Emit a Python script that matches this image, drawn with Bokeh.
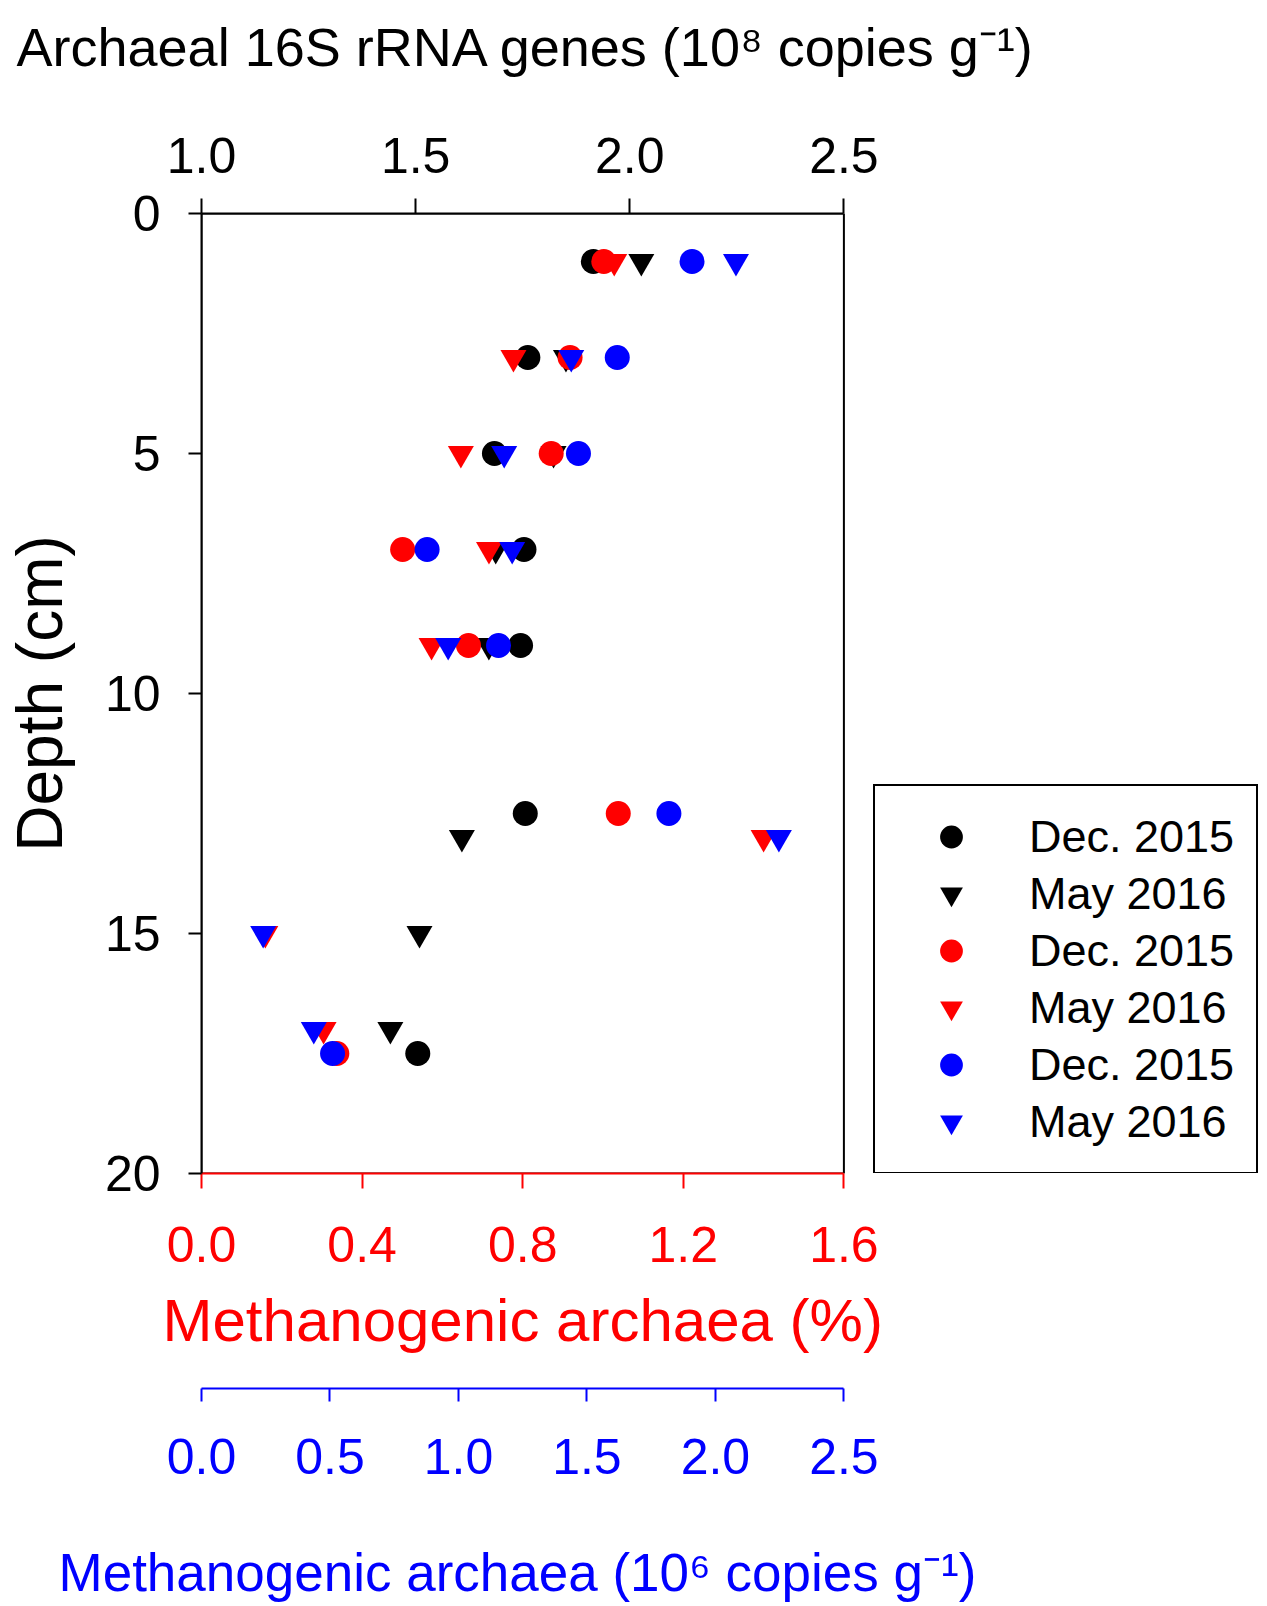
from bokeh.plotting import figure
from bokeh.models import (Range1d, LinearAxis, FixedTicker, PrintfTickFormatter,
                          Legend, LegendItem, Title, BoxAnnotation)
from bokeh.embed import file_html
from bokeh.resources import INLINE

# ---------------- data ----------------
depth_dec = [1, 3, 5, 7, 9, 12.5, 17.5]
depth_may = [1, 3, 5, 7, 9, 13, 15, 17]
# Archaeal 16S rRNA genes (10^8 copies g^-1)
archaea_dec = [1.915, 1.762, 1.684, 1.753, 1.745, 1.756, 1.505]
archaea_may = [2.027, 1.851, 1.822, 1.687, 1.671, 1.608, 1.509, 1.441]
# Methanogenic archaea (%)
methano_pct_dec = [1.002, 0.918, 0.871, 0.501, 0.665, 1.038, 0.337]
methano_pct_may = [1.028, 0.777, 0.646, 0.716, 0.573, 1.400, 0.159, 0.304]
# Methanogenic archaea (10^6 copies g^-1)
methano_cp_dec = [1.909, 1.618, 1.467, 0.878, 1.156, 1.819, 0.510]
methano_cp_may = [2.080, 1.439, 1.178, 1.209, 0.960, 2.247, 0.240, 0.437]

archaea_ticks = [1.0, 1.5, 2.0, 2.5]
pct_ticks = [0.0, 0.4, 0.8, 1.2, 1.6]
cp_ticks = [0.0, 0.5, 1.0, 1.5, 2.0, 2.5]
depth_ticks = [0, 5, 10, 15, 20]
legend_labels = ["Dec. 2015", "May 2016", "Dec. 2015", "May 2016", "Dec. 2015", "May 2016"]

title_top = "Archaeal 16S rRNA genes (10\u2078 copies g\u207b\u00b9)"
title_depth = "Depth (cm)"
title_pct = "Methanogenic archaea (%)"
title_cp = "Methanogenic archaea (10\u2076 copies g\u207b\u00b9)"

FONT = "Liberation Sans"

# ---------------- layout (pixels) ----------------
W, H = 1262, 1606
FL, FT, FB = 200, 213, 1173     # plot box left / top / bottom
BOX_W = 643                     # plot box width
FRAME_W = W - FL                # frame also hosts the legend on the right
k = FRAME_W / BOX_W

p = figure(width=W, height=H, output_backend="svg", toolbar_location=None,
           x_range=Range1d(archaea_ticks[0], archaea_ticks[0] + (archaea_ticks[-1] - archaea_ticks[0]) * k),
           y_range=Range1d(depth_ticks[-1], depth_ticks[0]),
           x_axis_location=None, y_axis_location=None,
           min_border_left=FL, min_border_right=0,
           min_border_top=FT, min_border_bottom=H - FB,
           background_fill_color="white", border_fill_color="white")
p.extra_x_ranges = {"pct": Range1d(0, pct_ticks[-1] * k), "cp": Range1d(0, cp_ticks[-1] * k)}
p.grid.visible = False
p.outline_line_color = None
p.title.text = ""

# plot box
p.add_layout(BoxAnnotation(left=archaea_ticks[0], right=archaea_ticks[-1],
                           top=depth_ticks[0], bottom=depth_ticks[-1],
                           fill_color=None, fill_alpha=0, line_color="black",
                           line_alpha=1.0, line_width=2, level="underlay"))


def style_axis(ax, color, ticks, tick_len, standoff, font_px):
    ax.ticker = FixedTicker(ticks=ticks)
    if isinstance(ticks[0], float):
        ax.formatter = PrintfTickFormatter(format="%.1f")
    ax.axis_line_color = color
    ax.axis_line_width = 2
    ax.major_tick_line_color = color
    ax.major_tick_line_width = 2
    ax.major_tick_out = tick_len
    ax.major_tick_in = 0
    ax.minor_tick_line_color = None
    ax.major_label_text_color = color
    ax.major_label_text_font = FONT
    ax.major_label_text_font_size = f"{font_px}px"
    ax.major_label_standoff = standoff


def title(text, color, font_px, x_start):
    return Title(text=text, text_font=FONT, text_font_size=f"{font_px}px",
                 text_font_style="normal", text_color=color, align="left",
                 offset=x_start - FL, standoff=0, vertical_align="bottom")


def spacer(gap):
    return Title(text=" ", text_font=FONT, text_font_size="2px", standoff=gap)


# top scale + title
top_ax = LinearAxis(bounds=(archaea_ticks[0], archaea_ticks[-1]))
style_axis(top_ax, "black", archaea_ticks, 15, 26, 50)
p.add_layout(top_ax, "above")
p.add_layout(spacer(54), "above")
p.add_layout(title(title_top, "black", 54, 15), "above")

# depth scale
left_ax = LinearAxis()
style_axis(left_ax, "black", depth_ticks, 13, 28, 50)
left_ax.axis_label = title_depth
left_ax.axis_label_text_font = FONT
left_ax.axis_label_text_font_size = "64px"
left_ax.axis_label_text_font_style = "normal"
left_ax.axis_label_text_color = "black"
left_ax.axis_label_standoff = 26
p.add_layout(left_ax, "left")

# red scale + title
red_ax = LinearAxis(x_range_name="pct", bounds=(pct_ticks[0], pct_ticks[-1]))
style_axis(red_ax, "red", pct_ticks, 15, 38, 50)
p.add_layout(red_ax, "below")
p.add_layout(spacer(16), "below")
p.add_layout(title(title_pct, "red", 60, 161), "below")
p.add_layout(spacer(31), "below")

# blue scale + title
blue_ax = LinearAxis(x_range_name="cp", bounds=(cp_ticks[0], cp_ticks[-1]))
style_axis(blue_ax, "blue", cp_ticks, 13, 37, 50)
p.add_layout(blue_ax, "below")
p.add_layout(spacer(60), "below")
p.add_layout(title(title_cp, "blue", 53, 57), "below")

# ---------------- markers ----------------
CS, TS = 25, 26
r_bc = p.scatter(x=archaea_dec, y=depth_dec, marker="circle", size=CS,
                 fill_color="black", line_color=None)
r_bt = p.scatter(x=archaea_may, y=depth_may, marker="inverted_triangle", size=TS,
                 fill_color="black", line_color=None)
r_rc = p.scatter(x=methano_pct_dec, y=depth_dec, x_range_name="pct", marker="circle",
                 size=CS, fill_color="red", line_color=None)
r_rt = p.scatter(x=methano_pct_may, y=depth_may, x_range_name="pct",
                 marker="inverted_triangle", size=TS, fill_color="red", line_color=None)
r_uc = p.scatter(x=methano_cp_dec, y=depth_dec, x_range_name="cp", marker="circle",
                 size=CS, fill_color="blue", line_color=None)
r_ut = p.scatter(x=methano_cp_may, y=depth_may, x_range_name="cp",
                 marker="inverted_triangle", size=TS, fill_color="blue", line_color=None)

renderers = [r_bc, r_bt, r_rc, r_rt, r_uc, r_ut]
legend = Legend(items=[LegendItem(label=lab, renderers=[r])
                       for lab, r in zip(legend_labels, renderers)],
                location=(872 - FL, FB - 1174), orientation="vertical", margin=0,
                padding=22, spacing=0,
                glyph_width=108, glyph_height=57, label_standoff=24, label_height=50,
                label_text_font=FONT, label_text_font_size="45px", label_text_color="black",
                border_line_color="black", border_line_width=2, border_line_alpha=1.0,
                background_fill_color="white", background_fill_alpha=1.0)
p.add_layout(legend)

open("out.html", "w").write(file_html(p, INLINE))
